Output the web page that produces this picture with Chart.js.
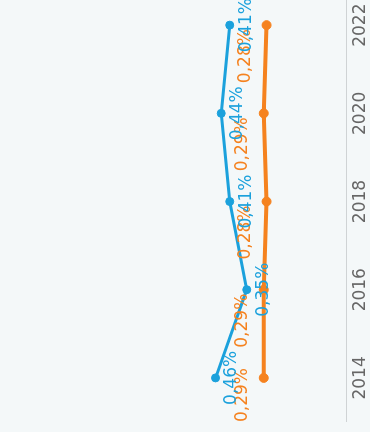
<!DOCTYPE html>
<html>
<head>
<meta charset="utf-8">
<script src="https://cdn.jsdelivr.net/npm/chart.js@4"></script>
<style>
  html, body { margin: 0; padding: 0; background: #f4f8f9; overflow: hidden; }
  /* chart is drawn landscape, then turned a quarter to the left */
  #wrap {
    position: absolute; left: 0; top: 0; width: 432px; height: 370px;
    transform-origin: 0 0;
    transform: translate(0, 432px) rotate(-90deg);
  }
</style>
</head>
<body>
<div id="wrap"><canvas id="grafico" width="432" height="370"></canvas></div>
<script>
const years = [2014, 2016, 2018, 2020, 2022];
const blueValues = [0.46, 0.35, 0.41, 0.44, 0.41];
const orangeValues = [0.29, 0.29, 0.28, 0.29, 0.28];
const yearTicks = [2014, 2016, 2018, 2020, 2022];

const BLUE = '#1ba1dc';
const ORANGE = '#f5821f';
const FONT = '"DejaVu Sans", sans-serif';

const pointLabels = {
  id: 'pointLabels',
  afterDatasetsDraw(chart, args, opts) {
    const ctx = chart.ctx;
    const area = chart.chartArea;
    ctx.save();
    ctx.font = '17px ' + FONT;
    ctx.textAlign = 'center';
    ctx.textBaseline = 'middle';
    // orange first so the blue labels sit on top
    for (let i = chart.data.datasets.length - 1; i >= 0; i--) {
      const ds = chart.data.datasets[i];
      const off = opts.offsets[i];
      chart.getDatasetMeta(i).data.forEach((pt, j) => {
        const text = ds.data[j].y.toFixed(2).replace('.', ',') + '%';
        const w = ctx.measureText(text).width;
        const x = Math.max(pt.x + off.dx, area.left + w / 2);
        ctx.fillStyle = ds.borderColor;
        ctx.fillText(text, x, pt.y + off.dy);
      });
    }
    ctx.restore();
  }
};

const ctx = document.getElementById('grafico').getContext('2d');

const grafico = new Chart(ctx, {
  type: 'line',
  data: {
    datasets: [{
      label: 'azul',
      data: years.map((y, i) => ({ x: y, y: blueValues[i] })),
      borderColor: BLUE,
      backgroundColor: BLUE,
      pointBackgroundColor: BLUE,
      pointBorderColor: BLUE,
      borderWidth: 3,
      pointRadius: 4,
      pointBorderWidth: 1,
      tension: 0
    }, {
      label: 'laranja',
      data: years.map((y, i) => ({ x: y, y: orangeValues[i] })),
      borderColor: ORANGE,
      backgroundColor: ORANGE,
      pointBackgroundColor: ORANGE,
      pointBorderColor: ORANGE,
      borderWidth: 4,
      pointRadius: 4.5,
      pointBorderWidth: 1,
      tension: 0
    }]
  },
  options: {
    responsive: false,
    animation: false,
    layout: { autoPadding: false, padding: { left: 10, right: 0, top: 0, bottom: 0 } },
    scales: {
      x: {
        type: 'linear',
        min: 2013,
        max: 2022.57,
        grid: { display: false, drawTicks: false },
        border: { display: true, color: '#cfd3d5', width: 1 },
        afterBuildTicks: s => { s.ticks = yearTicks.map(v => ({ value: v })); },
        afterFit: s => { s.height = 24; s.paddingLeft = 0; s.paddingRight = 0; },
        ticks: {
          color: '#666666',
          padding: 4,
          maxRotation: 0,
          autoSkip: false,
          font: { family: FONT, size: 17 },
          callback: v => String(v)
        }
      },
      y: { display: false, min: 0, max: 1.22 }
    },
    plugins: {
      legend: { display: false },
      tooltip: { enabled: false },
      pointLabels: {
        offsets: [{ dx: 0, dy: 16.5 }, { dx: -31, dy: -21.5 }]
      }
    }
  },
  plugins: [pointLabels]
});
</script>
</body>
</html>
